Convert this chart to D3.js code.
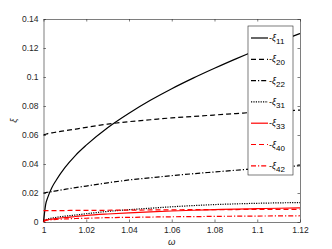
<!DOCTYPE html>
<html>
<head>
<meta charset="utf-8">
<script src="https://cdn.jsdelivr.net/npm/d3@7"></script>
<style>
  body { margin: 0; background: #fff; }
  svg text { font-family: "Liberation Sans", Arial, sans-serif; }
</style>
</head>
<body>
<div id="chart"></div>
<script>
const omega = [1, 1.001, 1.002, 1.004, 1.006, 1.01, 1.015, 1.02, 1.03, 1.04, 1.05, 1.06, 1.07, 1.08, 1.09, 1.1, 1.11, 1.12];
const xi11 = [0, 0.012, 0.017, 0.024, 0.029, 0.0375, 0.046, 0.053, 0.065, 0.075, 0.0839, 0.0919, 0.0992, 0.106, 0.1125, 0.1186, 0.1244, 0.130];
const xi20 = [0.060, 0.0605, 0.061, 0.0615, 0.062, 0.063, 0.064, 0.0653, 0.0675, 0.0692, 0.0705, 0.0718, 0.0728, 0.0738, 0.0748, 0.0758, 0.0765, 0.0772];
const xi22 = [0.020, 0.0203, 0.0205, 0.021, 0.0215, 0.0225, 0.0237, 0.0248, 0.027, 0.029, 0.0305, 0.032, 0.0333, 0.0345, 0.0357, 0.0368, 0.0378, 0.0388];
const xi31 = [0.001, 0.0015, 0.002, 0.0027, 0.0032, 0.004, 0.0048, 0.0057, 0.0073, 0.0085, 0.0095, 0.0105, 0.0113, 0.012, 0.0125, 0.0129, 0.0132, 0.0134];
const xi33 = [0, 0.0011, 0.0015, 0.002, 0.0024, 0.0031, 0.0038, 0.0045, 0.0055, 0.0063, 0.007, 0.0076, 0.0081, 0.0085, 0.0089, 0.0092, 0.0095, 0.0097];
const xi40 = [0.0078, 0.0078, 0.0078, 0.0078, 0.0079, 0.0079, 0.008, 0.008, 0.0081, 0.0082, 0.0083, 0.0084, 0.0085, 0.0085, 0.0086, 0.0087, 0.0087, 0.0088];
const xi42 = [0.0012, 0.0013, 0.0014, 0.0016, 0.0018, 0.0021, 0.0024, 0.0026, 0.003, 0.0032, 0.0034, 0.0036, 0.0037, 0.0039, 0.004, 0.0041, 0.0042, 0.0043];
const seriesNames = ["11", "20", "22", "31", "33", "40", "42"];
const xTicks = [1, 1.02, 1.04, 1.06, 1.08, 1.1, 1.12];
const yTicks = [0, 0.02, 0.04, 0.06, 0.08, 0.1, 0.12, 0.14];

const width = 332, height = 249;
const plotL = 43.5, plotR = 300, plotT = 19, plotB = 222;

const svg = d3.select("#chart").append("svg")
    .attr("width", width)
    .attr("height", height);

const x = d3.scaleLinear().domain([1, 1.12]).range([plotL, plotR]);
const y = d3.scaleLinear().domain([0, 0.14]).range([plotB, plotT]);

const axisColor = "#262626";
const fmt = d => String(+d.toFixed(2));

function styleAxis(g) {
    g.select(".domain").attr("stroke", axisColor).attr("stroke-width", 0.6);
    g.selectAll(".tick line").attr("stroke", axisColor).attr("stroke-width", 0.6);
    g.selectAll(".tick text").attr("fill", axisColor).style("font-size", "8.5px");
}

svg.append("g").attr("transform", "translate(0," + plotB + ")")
    .call(d3.axisBottom(x).tickValues(xTicks).tickFormat(fmt).tickSizeInner(-2.5).tickSizeOuter(0).tickPadding(5))
    .call(styleAxis);
svg.append("g").attr("transform", "translate(0," + plotT + ")")
    .call(d3.axisTop(x).tickValues(xTicks).tickFormat("").tickSizeInner(-2.5).tickSizeOuter(0))
    .call(styleAxis);
svg.append("g").attr("transform", "translate(" + plotL + ",0)")
    .call(d3.axisLeft(y).tickValues(yTicks).tickFormat(fmt).tickSizeInner(-2.5).tickSizeOuter(0).tickPadding(5))
    .call(styleAxis);
svg.append("g").attr("transform", "translate(" + plotR + ",0)")
    .call(d3.axisRight(y).tickValues(yTicks).tickFormat("").tickSizeInner(-2.5).tickSizeOuter(0))
    .call(styleAxis);

svg.append("text")
    .attr("x", x(1.06)).attr("y", 245)
    .attr("text-anchor", "middle")
    .attr("fill", axisColor)
    .style("font-size", "9.5px").style("font-style", "italic")
    .text("ω");
svg.append("text")
    .attr("transform", "translate(17," + ((plotT + plotB) / 2) + ") rotate(-90)")
    .attr("text-anchor", "middle")
    .attr("fill", axisColor)
    .style("font-size", "9.5px").style("font-style", "italic")
    .text("ξ");

const styles = [
    { data: xi11, color: "#000", dash: null, w: 1.2 },
    { data: xi20, color: "#000", dash: "5,3", w: 1.2 },
    { data: xi22, color: "#000", dash: "5,2,1.2,2", w: 1.2 },
    { data: xi31, color: "#000", dash: "1.2,1.2", w: 1.2 },
    { data: xi33, color: "#ff0000", dash: null, w: 1.2 },
    { data: xi40, color: "#ff0000", dash: "5,3", w: 1.2 },
    { data: xi42, color: "#ff0000", dash: "5,2,1.2,2", w: 1.2 }
];

const line = d3.line()
    .x((d, i) => x(omega[i]))
    .y(d => y(d))
    .curve(d3.curveMonotoneX);

svg.append("g").selectAll("path")
    .data(styles)
    .enter()
    .append("path")
    .attr("d", d => line(d.data))
    .attr("fill", "none")
    .attr("stroke", d => d.color)
    .attr("stroke-width", d => d.w)
    .attr("stroke-dasharray", d => d.dash);

// legend
const lx = 248, ly = 26, lw = 45, lh = 149, rowH = 21.3;
const legend = svg.append("g");
legend.append("rect")
    .attr("x", lx).attr("y", ly)
    .attr("width", lw).attr("height", lh)
    .attr("fill", "#fff")
    .attr("stroke", axisColor)
    .attr("stroke-width", 0.6);

const rows = legend.selectAll("g.row")
    .data(styles)
    .enter()
    .append("g")
    .attr("class", "row")
    .attr("transform", (d, i) => "translate(" + lx + "," + (ly + 12 + i * rowH) + ")");

rows.append("line")
    .attr("x1", 3).attr("x2", 20)
    .attr("y1", 0).attr("y2", 0)
    .attr("stroke", d => d.color)
    .attr("stroke-width", d => d.w)
    .attr("stroke-dasharray", d => d.dash);

const txt = rows.append("text")
    .attr("x", 21).attr("y", 3)
    .attr("fill", "#000")
    .style("font-size", "9px");
txt.append("tspan").text("-");
txt.append("tspan").style("font-style", "italic").text("ξ");
txt.append("tspan")
    .attr("dy", 3)
    .style("font-size", "8px")
    .text((d, i) => seriesNames[i]);
</script>
</body>
</html>
